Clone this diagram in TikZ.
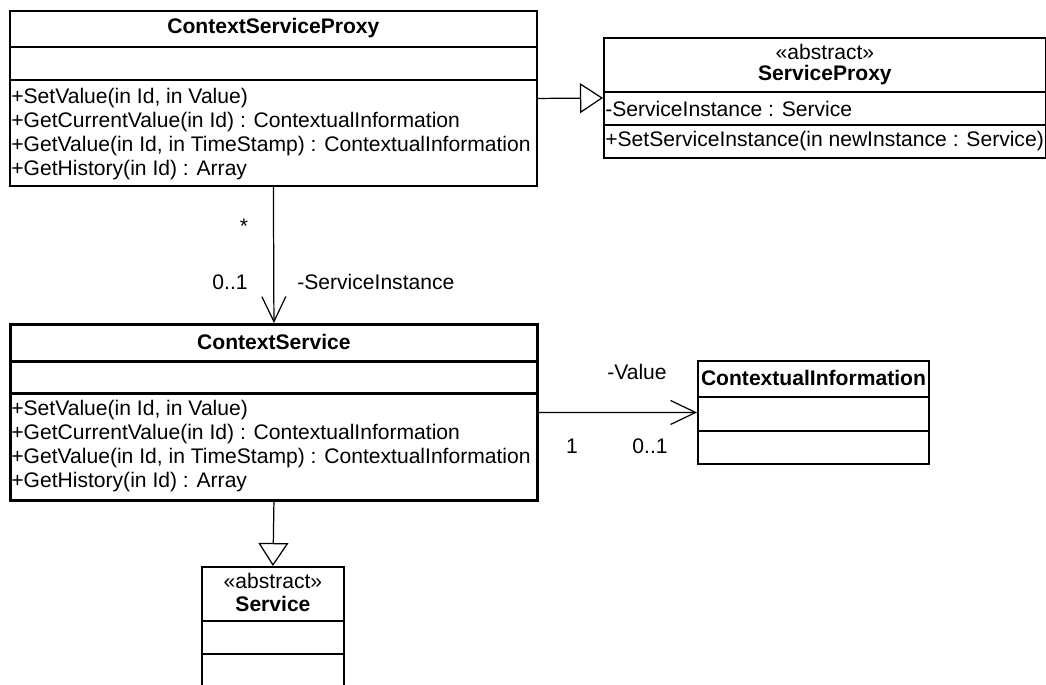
\documentclass[tikz,border=0pt]{standalone}
\usepackage{fontspec}
\setmainfont{Liberation Sans}
\usetikzlibrary{positioning,calc,arrows.meta}

\tikzset{
  classbox/.style={draw,line width=1.1pt,rectangle,inner sep=0pt,anchor=north west},
  sepline/.style={line width=1.1pt},
  classname/.style={inner sep=0pt,font=\fontsize{12}{14}\selectfont\bfseries},
  stereo/.style={inner sep=0pt,font=\fontsize{12}{14}\selectfont},
  member/.style={inner sep=0pt,anchor=west,font=\fontsize{12}{14}\selectfont},
  rolelabel/.style={inner sep=0pt,font=\fontsize{12}{14}\selectfont},
  genline/.style={line width=0.7pt,-{Triangle[open,length=0.46cm,width=0.6cm,fill=white]}},
  assocline/.style={line width=0.7pt,-{Straight Barb[length=0.5cm,width=0.48cm,line width=0.7pt]}}
}

\begin{document}
\begin{tikzpicture}[x=0.02cm,y=-0.02cm]
	\useasboundingbox (0,0) rectangle (1046,684);
	\clip (0,0) rectangle (1046,684);

	% ContextServiceProxy
	\node[classbox,minimum width=10.54cm,minimum height=3.5cm] (csp) at (9,10) {};
	\draw[sepline] ($(csp.north west)+(0,37)$) -- ($(csp.north east)+(0,37)$);
	\draw[sepline] ($(csp.north west)+(0,70)$) -- ($(csp.north east)+(0,70)$);
	\node[classname] (cspname) at ($(csp.north)+(0,18)$) {ContextServiceProxy};
	\foreach \txt [count=\i] in {{+SetValue(in Id, in Value)},{+GetCurrentValue(in Id) : ContextualInformation},{+GetValue(in Id, in TimeStamp) : ContextualInformation},{+GetHistory(in Id) : Array}}
		\node[member] (cspop\i) at ($(csp.north west)+(2,64+24*\i)$) {\txt};

	% ServiceProxy
	\node[classbox,minimum width=8.84cm,minimum height=2.4cm] (sp) at (603,37) {};
	\draw[sepline] ($(sp.north west)+(0,55)$) -- ($(sp.north east)+(0,55)$);
	\draw[sepline] ($(sp.north west)+(0,88)$) -- ($(sp.north east)+(0,88)$);
	\node[stereo] (spstereo) at ($(sp.north)+(0,15)$) {«abstract»};
	\node[classname] (spname) at ($(sp.north)+(0,38)$) {ServiceProxy};
	\node[member] (spattr) at ($(sp.north west)+(2,72)$) {-ServiceInstance : Service};
	\node[member] (spop) at ($(sp.north west)+(2,104)$) {+SetServiceInstance(in newInstance : Service)};

	% ContextService
	\node[classbox,line width=1.7pt,minimum width=10.54cm,minimum height=3.52cm] (cs) at (9,323) {};
	\draw[line width=1.7pt] ($(cs.north west)+(0,38)$) -- ($(cs.north east)+(0,38)$);
	\draw[line width=1.7pt] ($(cs.north west)+(0,70)$) -- ($(cs.north east)+(0,70)$);
	\node[classname] (csname) at ($(cs.north)+(0,19)$) {ContextService};
	\foreach \txt [count=\i] in {{+SetValue(in Id, in Value)},{+GetCurrentValue(in Id) : ContextualInformation},{+GetValue(in Id, in TimeStamp) : ContextualInformation},{+GetHistory(in Id) : Array}}
		\node[member] (csop\i) at ($(cs.north west)+(2,63+24*\i)$) {\txt};

	% ContextualInformation
	\node[classbox,minimum width=4.62cm,minimum height=2.06cm] (ci) at (697,360) {};
	\draw[sepline] ($(ci.north west)+(0,37)$) -- ($(ci.north east)+(0,37)$);
	\draw[sepline] ($(ci.north west)+(0,71)$) -- ($(ci.north east)+(0,71)$);
	\node[classname] (ciname) at ($(ci.north)+(0,18)$) {ContextualInformation};

	% Service
	\node[classbox,minimum width=2.84cm,minimum height=3cm] (srv) at (201,566) {};
	\draw[sepline] ($(srv.north west)+(0,55)$) -- ($(srv.north east)+(0,55)$);
	\draw[sepline] ($(srv.north west)+(0,88)$) -- ($(srv.north east)+(0,88)$);
	\node[stereo] (srvstereo) at ($(srv.north)+(0,15)$) {«abstract»};
	\node[classname] (srvname) at ($(srv.north)+(0,38)$) {Service};

	% connectors
	\draw[genline] (csp.east) -- (sp.west);
	\draw[assocline] (csp.south) -- (cs.north);
	\draw[genline] (cs.south) -- (srv.north);
	\draw[assocline] (cs.east) -- (ci.west);

	% role names and multiplicities
	\node[rolelabel] (star) at (244,226) {*};
	\node[rolelabel] (mult01a) at (230,282) {0..1};
	\node[rolelabel,anchor=west] (rolesi) at (297,282) {-ServiceInstance};
	\node[rolelabel] (roleval) at (637,372) {-Value};
	\node[rolelabel] (mult1) at (572,446) {1};
	\node[rolelabel] (mult01b) at (650,446) {0..1};
\end{tikzpicture}
\end{document}
